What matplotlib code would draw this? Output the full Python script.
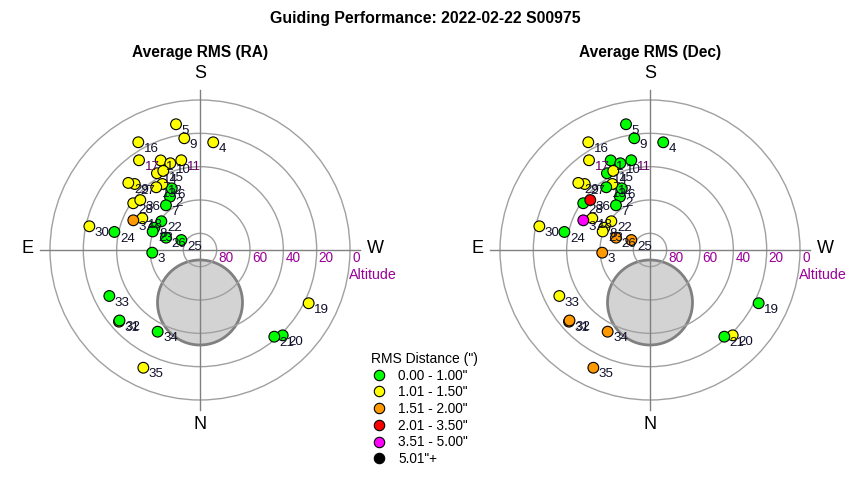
import numpy as np
import matplotlib.pyplot as plt
from matplotlib.patches import Circle
from matplotlib.lines import Line2D

plt.rcParams['font.family'] = ['Liberation Sans', 'DejaVu Sans']

# guide star positions (azimuth from N through E, altitude)
numbers = list(range(1, 38))
azimuth = [156.3, 150.6, 86.8, 187.0, 169.2, 155.4, 142.7, 116.0, 172.0, 161.1,
           168.2, 150.3, 145.1, 150.7, 155.1, 150.2, 145.8, 118.8, 296.1, 315.9,
           319.4, 126.6, 111.4, 101.9, 118.1, 109.9, 135.3, 125.0, 133.1, 102.1,
           48.5, 48.8, 63.1, 27.4, 25.7, 129.9, 114.0]
altitude = [31.3, 53.3, 61.3, 24.9, 13.2, 49.3, 56.3, 59.5, 22.3, 35.0,
            35.0, 44.4, 44.1, 37.2, 37.7, 15.5, 24.9, 50.5, 17.4, 18.7,
            21.5, 61.1, 59.5, 37.5, 77.3, 68.3, 34.3, 41.1, 31.1, 22.1,
            25.1, 25.8, 29.0, 34.8, 11.6, 43.3, 46.2]

# RMS class per star: 0=green .. 5=black
ra_class = [1, 0, 0, 1, 1, 0, 0, 0, 1, 1,
            1, 1, 1, 1, 1, 1, 1, 1, 1, 0,
            0, 0, 0, 0, 0, 0, 1, 1, 1, 1,
            1, 0, 0, 0, 1, 1, 2]
dec_class = [0, 0, 2, 0, 0, 0, 0, 1, 0, 0,
             0, 1, 0, 0, 1, 1, 1, 1, 0, 1,
             0, 1, 1, 0, 2, 2, 1, 0, 1, 1,
             2, 2, 1, 2, 2, 3, 4]

class_colors = ['#00ff00', '#ffff00', '#ff9900', '#ff0000', '#ff00ff', '#000000']
class_labels = ['0.00 - 1.00"', '1.01 - 1.50"', '1.51 - 2.00"',
                '2.01 - 3.50"', '3.51 - 5.00"', '5.01"+']
purple_labels = [11, 17]

# moon avoidance disc
moon_az = 0.0
moon_alt = 58.5
moon_radius = 25.5

alt_rings = [80, 60, 40, 20, 0]

W, H = 850, 480
PX = 1.0 / 0.6  # pixels per degree


def to_xy(az, alt):
    az = np.radians(np.asarray(az, dtype=float))
    r = 90.0 - np.asarray(alt, dtype=float)
    return -r * np.sin(az), -r * np.cos(az)


def draw_sky(cx, title, classes):
    ax = fig.add_axes([(cx - 180) / W, 40 / H, 360 / W, 380 / H])
    ax.set_xlim(-108, 108)
    ax.set_ylim(-114, 114)
    ax.axis('off')

    mx, my = to_xy(moon_az, moon_alt)
    ax.add_patch(Circle((mx, my), moon_radius, facecolor='#d3d3d3',
                        edgecolor='#808080', lw=2, zorder=1))

    for alt in alt_rings:
        ax.add_patch(Circle((0, 0), 90 - alt, fill=False, edgecolor='#a0a0a0',
                            lw=1, zorder=2))
        ax.text(90 - alt + 1.3, -4.5, str(alt), color='#990099', fontsize=9.8,
                ha='left', va='center', zorder=3)
    ax.text(89.5, -15, 'Altitude', color='#990099', fontsize=10.3,
            ha='left', va='center')
    ax.plot([-96, 96], [0, 0], color='#808080', lw=1, zorder=2)
    ax.plot([0, 0], [-96, 96], color='#808080', lw=1, zorder=2)

    ax.text(0, 106, 'S', fontsize=13, ha='center', va='center')
    ax.text(0, -104.5, 'N', fontsize=13, ha='center', va='center')
    ax.text(-103.5, 1, 'E', fontsize=13, ha='center', va='center')
    ax.text(105, 1, 'W', fontsize=13, ha='center', va='center')
    ax.text(0, 197 / PX, title, fontsize=11.2, fontweight='bold',
            ha='center', va='center', clip_on=False)

    x, y = to_xy(azimuth, altitude)
    cols = [class_colors[c] for c in classes]
    ax.scatter(x, y, s=60, c=cols, edgecolors='black', linewidths=0.8, zorder=4)
    for n, xi, yi in zip(numbers, x, y):
        col = '#660066' if n in purple_labels else '#10102a'
        ax.annotate(str(n), (xi, yi), xytext=(4.0, -4.8), textcoords='offset points',
                    fontsize=9.6, color=col, ha='left', va='center', zorder=5)
    return ax


fig = plt.figure(figsize=(W / 100, H / 100), dpi=100)
fig.text(0.5, 1 - 18 / H, 'Guiding Performance: 2022-02-22 S00975',
         fontsize=11.4, fontweight='bold', ha='center', va='center')

draw_sky(200, 'Average RMS (RA)', ra_class)
draw_sky(650, 'Average RMS (Dec)', dec_class)

handles = [Line2D([], [], marker='o', ls='none', markersize=7.5,
                  markerfacecolor=c, markeredgecolor='black', markeredgewidth=0.8)
           for c in class_colors]
leg = fig.legend(handles, class_labels, loc='upper left',
                 bbox_to_anchor=(364 / W, 1 - 345 / H), frameon=False,
                 title='RMS Distance (")', title_fontsize=10, fontsize=9.8,
                 labelspacing=0.2, handletextpad=0.8, borderpad=0,
                 handlelength=1.2, alignment='left')

fig.savefig('out.png', dpi=100)
